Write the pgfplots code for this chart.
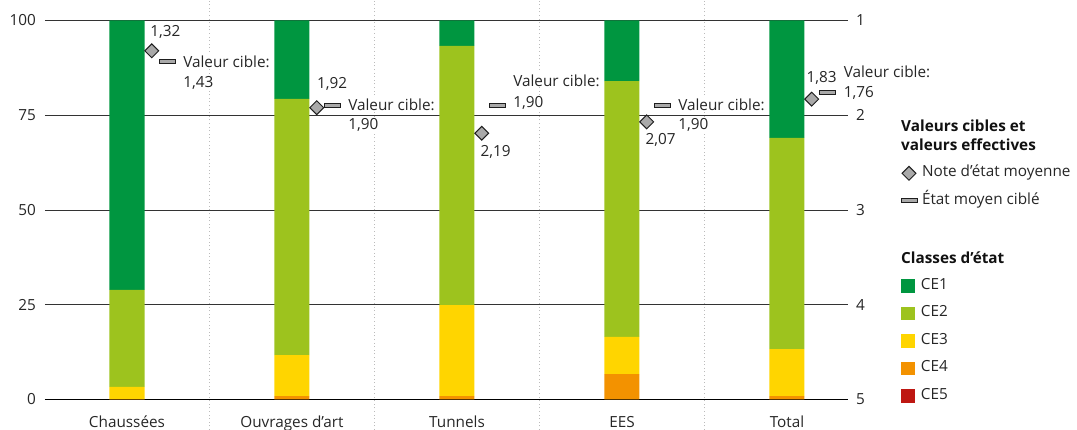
\documentclass[border=0pt]{standalone}
\usepackage{fontspec}
\setmainfont{Open Sans}
\usepackage{pgfplots}
\usepackage{pgfplotstable}
\pgfplotsset{compat=1.18}

\definecolor{ce1}{HTML}{009640}
\definecolor{ce2}{HTML}{9DC31E}
\definecolor{ce3}{HTML}{FFD500}
\definecolor{ce4}{HTML}{F39200}
\definecolor{ce5}{HTML}{BE1712}
\definecolor{txt}{HTML}{262626}
\definecolor{ttl}{HTML}{111111}
\definecolor{gridc}{HTML}{333333}
\definecolor{sepc}{HTML}{BBBBBB}
\definecolor{markfill}{HTML}{A9A9A9}
\definecolor{markline}{HTML}{1E1E1E}

\newcommand\fs{\fontsize{15.3}{18}\selectfont}

% target condition marker: a short horizontal bar
\pgfdeclareplotmark{cible}{%
  \pgfpathrectangle{\pgfqpoint{-8pt}{-2.2pt}}{\pgfqpoint{16pt}{4.4pt}}%
  \pgfusepathqfillstroke}

% shares of condition classes (%), mean condition grade and target grade
\pgfplotstableread{
x ce5 ce4 ce3 ce2 ce1 note cible
0 0 0.1 3.2 25.6 71.1 1.32 1.43
1 0 0.9 10.8 67.6 20.7 1.92 1.90
2 0 0.9 24.0 68.4 6.7 2.19 1.90
3 0 6.7 9.8 67.5 16.0 2.07 1.90
4 0 0.9 12.4 55.7 31.0 1.83 1.76
}\data

\tikzset{
  lbl/.style={font=\fs, text=txt, fill=white, inner sep=1pt},
}
\pgfplotsset{
  sq/.style={legend image code/.code={\fill[#1] (0pt,-6.2pt) rectangle (12.5pt,6.2pt);}},
  markleg/.style={legend image code/.code={\draw[##1] plot coordinates {(8pt,0pt)};}},
}

\begin{document}
\begin{tikzpicture}[x=1pt,y=1pt]
\useasboundingbox (0,0) rectangle (1077,430);

\begin{axis}[
  at={(45pt,30.5pt)}, anchor=south west,
  scale only axis, width=803pt, height=379pt,
  xmin=-0.497, xmax=4.37, ymin=0, ymax=100,
  axis line style={draw=none},
  major tick length=0pt,
  ytick={0,25,50,75,100}, yticklabels={0,25,50,75,100},
  yticklabel style={font=\fs, text=txt, anchor=east, inner sep=0pt, xshift=-9pt},
  xtick={0,1,2,3,4},
  xticklabels={Chaussées,Ouvrages d’art,Tunnels,EES,Total},
  xticklabel style={font=\fs, text=txt, anchor=base, inner sep=0pt, yshift=-28.5pt},
  ymajorgrids, grid style={line width=0.9pt, color=gridc},
  ybar stacked, bar width=35pt,
  clip=false,
  legend style={at={(axis description cs:1.066,0.317)}, anchor=north west,
    draw=none, fill=none, inner sep=0pt, outer sep=0pt,
    row sep=14.5pt, column sep=7pt,
    nodes={inner sep=0pt, text height=10pt, text depth=3pt, font=\fs, text=txt}},
  legend cell align=left,
]
\addplot[fill=ce5, draw=none, forget plot] table[x=x, y=ce5]{\data};
\addplot[fill=ce4, draw=none, forget plot] table[x=x, y=ce4]{\data};
\addplot[fill=ce3, draw=none, forget plot] table[x=x, y=ce3]{\data};
\addplot[fill=ce2, draw=none, forget plot] table[x=x, y=ce2]{\data};
\addplot[fill=ce1, draw=none, forget plot] table[x=x, y=ce1]{\data};

\addlegendimage{sq=ce1}\addlegendentry{CE1}
\addlegendimage{sq=ce2}\addlegendentry{CE2}
\addlegendimage{sq=ce3}\addlegendentry{CE3}
\addlegendimage{sq=ce4}\addlegendentry{CE4}
\addlegendimage{sq=ce5}\addlegendentry{CE5}

% category separators across the full height
\foreach \s in {0.5,1.5,2.5,3.5}{
  \edef\tmp{\noexpand\draw[sepc, line width=1pt, dash pattern=on 1pt off 2.6pt]
    (axis cs:\s,-8.05) -- (axis cs:\s,105.4);}\tmp
}
% base line
\draw[black, line width=1.8pt] (rel axis cs:0,0) -- (rel axis cs:1,0);
\end{axis}

\begin{axis}[
  at={(45pt,30.5pt)}, anchor=south west,
  scale only axis, width=803pt, height=379pt,
  xmin=-0.497, xmax=4.37, ymin=1, ymax=5, y dir=reverse,
  hide x axis, axis y line*=right, axis line style={draw=none},
  major tick length=0pt,
  ytick={1,2,3,4,5}, yticklabels={1,2,3,4,5},
  yticklabel style={font=\fs, text=txt, anchor=west, inner sep=0pt, xshift=8pt},
  clip=false,
  legend style={at={(axis description cs:1.066,0.615)}, anchor=north west,
    draw=none, fill=none, inner sep=0pt, outer sep=0pt,
    row sep=14pt, column sep=5pt,
    nodes={inner sep=0pt, text height=10pt, text depth=3pt, font=\fs, text=txt}},
  legend cell align=left,
]
\addplot[only marks, mark=square*, mark size=4.9pt,
  mark options={rotate=45, fill=markfill, draw=markline, line width=1pt},
  markleg]
  table[x expr=\thisrow{x}+0.15, y=note]{\data};
\addlegendentry{Note d’état moyenne}
\addplot[only marks, mark=cible,
  mark options={fill=markfill, draw=markline, line width=1pt},
  markleg]
  table[x expr=\thisrow{x}+0.243, y=cible]{\data};
\addlegendentry{État moyen ciblé}

% value labels
\node[lbl, anchor=base, xshift=13.5pt, yshift=14.5pt] at (axis cs:0.15,1.32) {1,32};
\node[lbl, anchor=base west, xshift=15pt, yshift=-5.8pt] at (axis cs:0.243,1.43) {Valeur cible:};
\node[lbl, anchor=base west, xshift=15pt, yshift=-26pt] at (axis cs:0.243,1.43) {1,43};

\node[lbl, anchor=base, xshift=15.5pt, yshift=19pt] at (axis cs:1.15,1.92) {1,92};
\node[lbl, anchor=base west, xshift=15pt, yshift=-4.7pt] at (axis cs:1.243,1.90) {Valeur cible:};
\node[lbl, anchor=base west, xshift=15pt, yshift=-24pt] at (axis cs:1.243,1.90) {1,90};

\node[lbl, anchor=base, xshift=14pt, yshift=-23pt] at (axis cs:2.15,2.19) {2,19};
\node[lbl, anchor=base west, xshift=15pt, yshift=19.7pt] at (axis cs:2.243,1.90) {Valeur cible:};
\node[lbl, anchor=base west, xshift=15pt, yshift=-1.3pt] at (axis cs:2.243,1.90) {1,90};

\node[lbl, anchor=base, xshift=14pt, yshift=-23pt] at (axis cs:3.15,2.07) {2,07};
\node[lbl, anchor=base west, xshift=15pt, yshift=-4.7pt] at (axis cs:3.243,1.90) {Valeur cible:};
\node[lbl, anchor=base west, xshift=15pt, yshift=-24pt] at (axis cs:3.243,1.90) {1,90};

\node[lbl, anchor=base, xshift=10pt, yshift=16.5pt] at (axis cs:4.15,1.83) {1,83};
\node[lbl, anchor=base west, xshift=15.5pt, yshift=15.3pt] at (axis cs:4.243,1.76) {Valeur cible:};
\node[lbl, anchor=base west, xshift=15.5pt, yshift=-4.7pt] at (axis cs:4.243,1.76) {1,76};
\end{axis}

% legend headings
\node[font=\fs\bfseries, text=ttl, anchor=base west, inner sep=0pt] at (901,298.3) {Valeurs cibles et};
\node[font=\fs\bfseries, text=ttl, anchor=base west, inner sep=0pt] at (901,279.3) {valeurs effectives};
\node[font=\fs\bfseries, text=ttl, anchor=base west, inner sep=0pt] at (901,166.7) {Classes d’état};
\end{tikzpicture}
\end{document}
